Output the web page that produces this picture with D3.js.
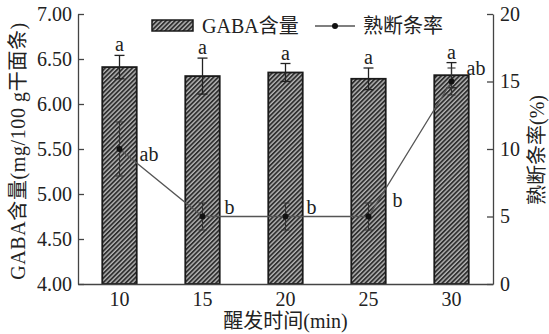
<!DOCTYPE html>
<html>
<head>
<meta charset="utf-8">
<script src="https://cdn.jsdelivr.net/npm/d3@7"></script>
<style>
  html, body { margin: 0; padding: 0; background: #fff; }
  text { font-family: "Liberation Serif", "Noto Sans CJK SC", serif; fill: #222; }
</style>
</head>
<body>
<svg id="chart" width="549" height="334"></svg>
<script>
// Proofing time (min)
const times = ["10", "15", "20", "25", "30"];
// GABA content (mg/100 g dry noodles), mean and error
const gaba = [6.41, 6.31, 6.35, 6.28, 6.32];
const gabaErr = [0.13, 0.20, 0.10, 0.12, 0.14];
const gabaSig = ["a", "a", "a", "a", "a"];
// Cooked breakage rate (%), mean and error
const breakRate = [10, 5, 5, 5, 15];
const breakErr = [2, 1, 1, 1, 1];
const breakSig = ["ab", "b", "b", "b", "ab"];
// Axis ticks
const leftTicks = [4.0, 4.5, 5.0, 5.5, 6.0, 6.5, 7.0];
const rightTicks = [0, 5, 10, 15, 20];

// Offsets of the significance letters beside the line points
const lineLabelOffset = [[20, 6], [22, -9], [21, -9], [24, -16], [15, -13]];

const svg = d3.select("#chart");
const m = { left: 78, right: 493, top: 14, bottom: 284 };
const axisColor = "#444";
const fontSize = 20;

const x = d3.scaleBand().domain(times).range([m.left, m.right])
  .paddingInner(0.585).paddingOuter(0.2925);
const yL = d3.scaleLinear().domain([4, 7]).range([m.bottom, m.top]);
const yR = d3.scaleLinear().domain([0, 20]).range([m.bottom, m.top]);

// Diagonal hatch used for the bars
const defs = svg.append("defs");
const pat = defs.append("pattern").attr("id", "hatch")
  .attr("patternUnits", "userSpaceOnUse").attr("width", 3.2).attr("height", 3.2)
  .attr("patternTransform", "rotate(45)");
pat.append("rect").attr("width", 3.2).attr("height", 3.2).attr("fill", "#b4b4b4");
pat.append("rect").attr("width", 1.8).attr("height", 3.2).attr("fill", "#303030");

// Bars
svg.append("g").selectAll("rect").data(times).join("rect")
  .attr("x", d => x(d))
  .attr("y", (d, i) => yL(gaba[i]))
  .attr("width", x.bandwidth())
  .attr("height", (d, i) => yL(4) - yL(gaba[i]))
  .attr("fill", "url(#hatch)")
  .attr("stroke", "#1a1a1a").attr("stroke-width", 1.8);

// Bar error bars
const ebar = svg.append("g").attr("stroke", "#222").attr("stroke-width", 1.3);
times.forEach((t, i) => {
  const cx = x(t) + x.bandwidth() / 2;
  const y1 = yL(gaba[i] + gabaErr[i]), y0 = yL(gaba[i] - gabaErr[i]);
  ebar.append("line").attr("x1", cx).attr("x2", cx).attr("y1", y1).attr("y2", y0);
  ebar.append("line").attr("x1", cx - 5).attr("x2", cx + 5).attr("y1", y1).attr("y2", y1);
  ebar.append("line").attr("x1", cx - 5).attr("x2", cx + 5).attr("y1", y0).attr("y2", y0);
});

// Bar significance letters
svg.append("g").selectAll("text").data(times).join("text")
  .attr("x", d => x(d) + x.bandwidth() / 2)
  .attr("y", (d, i) => yL(gaba[i] + gabaErr[i]) - 4)
  .attr("text-anchor", "middle")
  .attr("font-size", fontSize)
  .text((d, i) => gabaSig[i]);

// Breakage rate line
const cxOf = t => x(t) + x.bandwidth() / 2;
const line = d3.line().x((d, i) => cxOf(times[i])).y(d => yR(d));
svg.append("path").datum(breakRate).attr("d", line)
  .attr("fill", "none").attr("stroke", "#555").attr("stroke-width", 1.3);

const lerr = svg.append("g").attr("stroke", "#333").attr("stroke-width", 1.1);
times.forEach((t, i) => {
  const cx = cxOf(t);
  const y1 = yR(breakRate[i] + breakErr[i]), y0 = yR(breakRate[i] - breakErr[i]);
  lerr.append("line").attr("x1", cx).attr("x2", cx).attr("y1", y1).attr("y2", y0);
  lerr.append("line").attr("x1", cx - 4).attr("x2", cx + 4).attr("y1", y1).attr("y2", y1);
  lerr.append("line").attr("x1", cx - 4).attr("x2", cx + 4).attr("y1", y0).attr("y2", y0);
});
svg.append("g").selectAll("circle").data(breakRate).join("circle")
  .attr("cx", (d, i) => cxOf(times[i])).attr("cy", d => yR(d)).attr("r", 3)
  .attr("fill", "#111");

svg.append("g").selectAll("text").data(breakRate).join("text")
  .attr("x", (d, i) => cxOf(times[i]) + lineLabelOffset[i][0])
  .attr("y", (d, i) => yR(d) + lineLabelOffset[i][1] + 6)
  .attr("font-size", fontSize)
  .text((d, i) => breakSig[i]);

// Axes
function styleAxis(g) {
  g.select(".domain").attr("stroke", axisColor).attr("stroke-width", 1.3);
  g.selectAll(".tick line").attr("stroke", axisColor).attr("stroke-width", 1.3);
  g.selectAll(".tick text").attr("font-size", fontSize)
    .attr("font-family", "Liberation Serif, serif").attr("fill", "#222");
}
svg.append("g").attr("transform", `translate(${m.left},0)`)
  .call(d3.axisLeft(yL).tickValues(leftTicks).tickFormat(d3.format(".2f"))
    .tickSizeInner(-6).tickSizeOuter(0).tickPadding(6))
  .call(styleAxis);
svg.append("g").attr("transform", `translate(${m.right},0)`)
  .call(d3.axisRight(yR).tickValues(rightTicks)
    .tickSizeInner(-6).tickSizeOuter(0).tickPadding(7))
  .call(styleAxis);
svg.append("g").attr("transform", `translate(0,${m.bottom})`)
  .call(d3.axisBottom(x).tickSize(0).tickPadding(8))
  .call(styleAxis);

// Axis titles
svg.append("text").attr("transform", `translate(25,${(m.top + m.bottom) / 2 + 2}) rotate(-90)`)
  .attr("text-anchor", "middle").attr("font-size", fontSize)
  .attr("letter-spacing", 0.6)
  .text("GABA含量(mg/100 g干面条)");
svg.append("text").attr("transform", `translate(544,${150}) rotate(-90)`)
  .attr("text-anchor", "middle").attr("font-size", fontSize)
  .text("熟断条率(%)");
svg.append("text").attr("x", (m.left + m.right) / 2).attr("y", 328)
  .attr("text-anchor", "middle").attr("font-size", fontSize)
  .text("醒发时间(min)");

// Legend
const lg = svg.append("g");
lg.append("rect").attr("x", 152).attr("y", 20).attr("width", 41).attr("height", 11)
  .attr("fill", "url(#hatch)").attr("stroke", "#1a1a1a").attr("stroke-width", 1.5);
lg.append("text").attr("x", 202).attr("y", 33).attr("font-size", fontSize).text("GABA含量");
lg.append("line").attr("x1", 315).attr("x2", 355).attr("y1", 26).attr("y2", 26)
  .attr("stroke", "#555").attr("stroke-width", 1.3);
lg.append("circle").attr("cx", 335).attr("cy", 26).attr("r", 3).attr("fill", "#111");
lg.append("text").attr("x", 363).attr("y", 33).attr("font-size", fontSize).text("熟断条率");
</script>
</body>
</html>
